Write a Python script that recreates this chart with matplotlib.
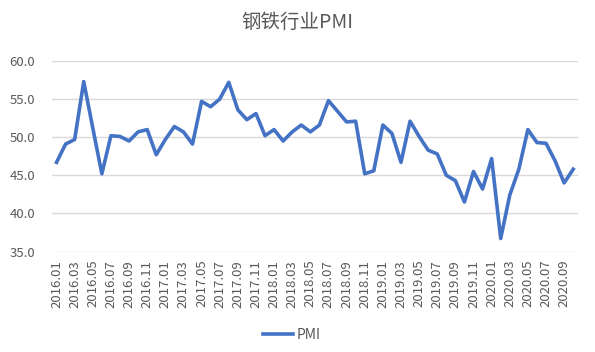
import matplotlib
matplotlib.use("Agg")
import matplotlib.pyplot as plt

plt.rcParams['font.family'] = ['Noto Sans CJK SC', 'DejaVu Sans']

# 月份 2016.01 - 2020.10
months = [f"{y}.{m:02d}" for y in range(2016, 2021) for m in range(1, 13)][:58]

# 钢铁行业PMI
pmi = [46.7, 49.1, 49.7, 57.3, 51.2, 45.2, 50.2, 50.1, 49.5, 50.7, 51.0, 47.7,
       49.7, 51.4, 50.7, 49.1, 54.7, 54.0, 55.0, 57.2, 53.6, 52.3, 53.1, 50.2,
       51.0, 49.5, 50.7, 51.6, 50.7, 51.6, 54.8, 53.4, 52.0, 52.1, 45.2, 45.6,
       51.6, 50.5, 46.7, 52.1, 50.1, 48.3, 47.8, 45.0, 44.3, 41.5, 45.5, 43.2,
       47.2, 36.7, 42.4, 45.8, 51.0, 49.3, 49.2, 46.9, 44.0, 45.8]

yticks = [35, 40, 45, 50, 55, 60]

fig = plt.figure(figsize=(5.95, 3.52), dpi=100)
ax = fig.add_axes([0.0874, 0.2855, 0.8836, 0.5412])

x = list(range(len(months)))
ax.plot(x, pmi, color='#4472C4', linewidth=2.6, label='PMI', solid_joinstyle='round')

ax.set_xlim(-0.5, len(months) - 0.5)
ax.set_ylim(35, 60)
ax.set_yticks(yticks)
ax.set_yticklabels([f"{v:.1f}" for v in yticks])
ax.set_xticks(x[::2])
ax.set_xticklabels(months[::2], rotation=90)

ax.grid(axis='y', color='#D9D9D9', linewidth=1)
ax.set_axisbelow(True)
for s in ax.spines.values():
    s.set_visible(False)
ax.tick_params(axis='both', length=0, colors='#595959', labelsize=9.5)
ax.tick_params(axis='x', pad=6)
ax.tick_params(axis='y', pad=12)

fig.suptitle('钢铁行业PMI', x=0.5, y=0.965, fontsize=14, color='#595959')

fig.legend(loc='lower center', bbox_to_anchor=(0.49, -0.006), frameon=False,
           fontsize=10, labelcolor='#595959', handlelength=2.2, handletextpad=0.2)

fig.savefig('out.png', dpi=100)
